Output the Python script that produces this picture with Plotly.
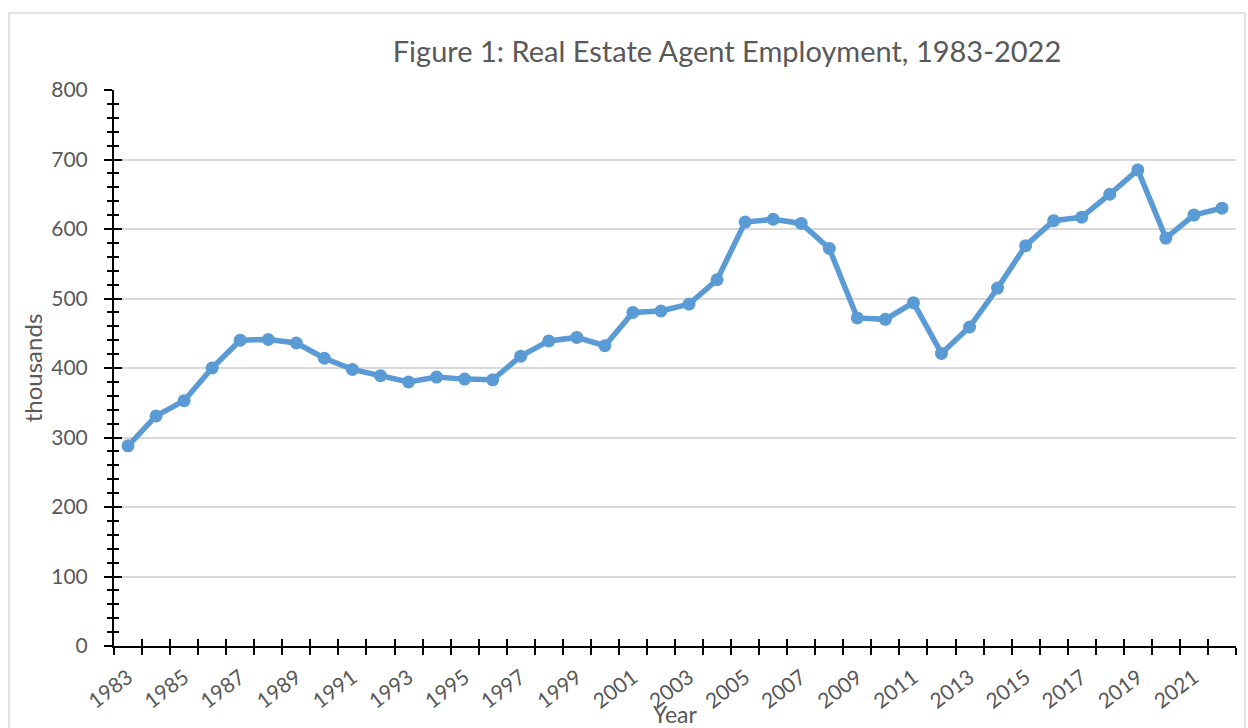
import plotly.graph_objects as go

years = list(range(1983, 2023))
agents = [288, 331, 353, 400, 440, 441, 436, 414, 398, 389,
          380, 387, 384, 383, 417, 439, 444, 432, 480, 482,
          492, 527, 610, 614, 608, 572, 472, 470, 494, 421,
          459, 515, 576, 612, 617, 650, 685, 587, 620, 630]
label_years = list(range(1983, 2023, 2))
label_text = [str(y) for y in label_years]

FONT = "Lato"
GREY = "#595959"
BLUE = "#5B9BD5"

fig = go.Figure()
# invisible copy so the overlaid tick axes get drawn
fig.add_trace(go.Scatter(
    x=years, y=agents, mode="lines", xaxis="x2", yaxis="y2",
    line=dict(color="rgba(0,0,0,0)", width=0), opacity=0,
    showlegend=False, hoverinfo="skip",
))
fig.add_trace(go.Scatter(
    x=years, y=agents, mode="lines+markers",
    line=dict(color=BLUE, width=5.5),
    marker=dict(color=BLUE, size=13),
    showlegend=False, hoverinfo="x+y",
))

fig.update_layout(
    width=1248, height=728,
    margin=dict(l=114, r=12, t=90, b=82, autoexpand=False),
    paper_bgcolor="white", plot_bgcolor="white",
    font=dict(family=FONT, color=GREY, size=22),
    title=dict(text="Figure 1: Real Estate Agent Employment, 1983-2022",
               x=727/1248, xref="container", xanchor="center",
               y=1-52/728, yref="container", yanchor="middle",
               font=dict(family=FONT, size=29, color=GREY)),
    xaxis=dict(
        range=[1982.5, 2022.5], tickmode="array", tickvals=label_years, ticktext=label_text,
        tickangle=-37, ticks="", showgrid=False, zeroline=False, automargin=False,
        showline=True, linecolor="black", linewidth=2,
        tickfont=dict(family=FONT, size=21, color=GREY),
        ticklabelstandoff=9,
        minor=dict(tick0=1982.5, dtick=1, ticks="outside", ticklen=7, tickwidth=2,
                   tickcolor="black", showgrid=False),
        title=dict(text="Year", standoff=0, font=dict(family=FONT, size=23, color=GREY)),
    ),
    xaxis2=dict(
        range=[1982.5, 2022.5], overlaying="x", anchor="y", side="bottom", automargin=False,
        tickmode="linear", tick0=1982.5, dtick=1, ticks="inside", ticklen=7, tickwidth=2,
        tickcolor="black", showticklabels=False, showgrid=False, zeroline=False, showline=False,
    ),
    yaxis=dict(
        range=[0, 800], tickmode="linear", tick0=0, dtick=100, automargin=False,
        ticks="outside", ticklen=8, tickwidth=2, tickcolor="black",
        showgrid=True, gridcolor="#d9d9d9", gridwidth=1.5, zeroline=False,
        showline=True, linecolor="black", linewidth=2,
        tickfont=dict(family=FONT, size=21, color=GREY),
        ticklabelstandoff=12,
        minor=dict(dtick=20, ticks="outside", ticklen=5, tickwidth=2,
                   tickcolor="black", showgrid=False),
        title=dict(text="thousands", standoff=2, font=dict(family=FONT, size=24, color=GREY)),
    ),
    yaxis2=dict(
        range=[0, 800], overlaying="y", anchor="x", side="left", automargin=False,
        tickmode="linear", tick0=0, dtick=100, ticks="inside", ticklen=8, tickwidth=2,
        tickcolor="black", showticklabels=False, showgrid=False, zeroline=False, showline=False,
        minor=dict(dtick=20, ticks="inside", ticklen=5, tickwidth=2,
                   tickcolor="black", showgrid=False),
    ),
    shapes=[dict(type="rect", xref="paper", yref="paper",
                 x0=(9-114)/1122, x1=(1245-114)/1122,
                 y0=-0.2, y1=(646.5-12.7)/556.8,
                 line=dict(color="#d9d9d9", width=1.5), fillcolor="rgba(0,0,0,0)",
                 layer="below")],
)

fig.write_html("out.html")
